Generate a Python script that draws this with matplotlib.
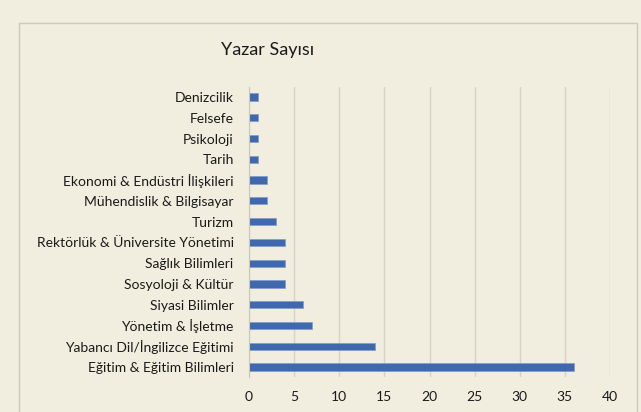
import numpy as np
import matplotlib.pyplot as plt
from matplotlib.patches import Rectangle

plt.rcParams['font.family'] = ['Lato', 'DejaVu Sans']

categories = ["Denizcilik", "Felsefe", "Psikoloji", "Tarih",
              "Ekonomi & Endüstri İlişkileri", "Mühendislik & Bilgisayar",
              "Turizm", "Rektörlük & Üniversite Yönetimi", "Sağlık Bilimleri",
              "Sosyoloji & Kültür", "Siyasi Bilimler", "Yönetim & İşletme",
              "Yabancı Dil/İngilizce Eğitimi", "Eğitim & Eğitim Bilimleri"]
counts = [1, 1, 1, 1, 2, 2, 3, 4, 4, 4, 6, 7, 14, 36]
xticks = [0, 5, 10, 15, 20, 25, 30, 35, 40]

bg = "#F1EEDF"
fig = plt.figure(figsize=(6.41, 4.12), dpi=100, facecolor=bg)

# chart frame
W, H = 641, 412
fig.patches.append(Rectangle((19 / W, -0.01), (637 - 19) / W, 1 - 23 / H + 0.01,
                             transform=fig.transFigure, facecolor=bg,
                             edgecolor="#CBC8BC", linewidth=1, zorder=-1))

ax = fig.add_axes([249 / W, 1 - 377.4 / H, (610 - 249) / W, (377.4 - 86.6) / H])
ax.set_zorder(1)
ax.set_facecolor(bg)

y = np.arange(len(categories))
ax.barh(y, counts, height=0.35, color="#4068AC", edgecolor="#7F9CCB",
        linewidth=0.5, zorder=3)

ax.set_ylim(len(categories) - 0.5, -0.5)
ax.set_yticks(y)
ax.set_yticklabels(categories, fontsize=10, color="#1a1a1a")
ax.set_xlim(0, 40)
ax.set_xticks(xticks)
ax.set_xticklabels([str(t) for t in xticks], fontsize=10, color="#1a1a1a")
ax.tick_params(axis="y", length=0, pad=11)
ax.tick_params(axis="x", length=0, pad=10)

ax.grid(axis="x", color="#D6D3C6", linewidth=1, zorder=0)
for s in ["top", "right", "bottom"]:
    ax.spines[s].set_visible(False)
ax.spines["left"].set_color("#C9C6BA")
ax.spines["left"].set_zorder(4)

fig.text(268 / W, 1 - 50 / H, "Yazar Sayısı", fontsize=13, ha="center",
         va="center", color="#1a1a1a", zorder=2)

fig.savefig("out.png", dpi=100, facecolor=bg)
